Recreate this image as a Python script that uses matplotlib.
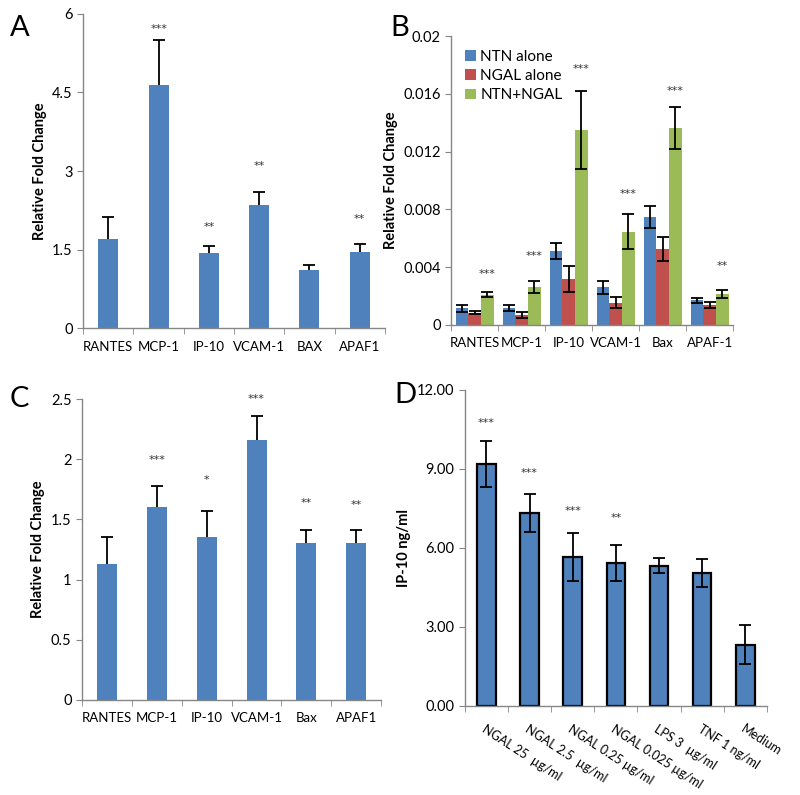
import numpy as np
import matplotlib
matplotlib.use("Agg")
import matplotlib.pyplot as plt
from matplotlib.ticker import FixedLocator, NullFormatter

plt.rcParams['font.family'] = ['Lato', 'DejaVu Sans']

BLUE = '#4F81BD'
RED = '#C0504D'
GREEN = '#9BBB59'
SPINE = '#868686'

# Panel A
a_labels = ['RANTES', 'MCP-1', 'IP-10', 'VCAM-1', 'BAX', 'APAF1']
a_vals = [1.70, 4.65, 1.44, 2.36, 1.10, 1.45]
a_err = [0.43, 0.85, 0.12, 0.24, 0.10, 0.15]
a_stars = ['', '***', '**', '**', '', '**']
a_star_y = [0, 5.72, 1.93, 3.10, 0, 2.08]

# Panel B
b_labels = ['RANTES', 'MCP-1', 'IP-10', 'VCAM-1', 'Bax', 'APAF-1']
b_ntn = [0.00115, 0.0012, 0.00514, 0.0026, 0.00747, 0.0017]
b_ntn_err = [0.00023, 0.0002, 0.00056, 0.00045, 0.00079, 0.0002]
b_ngal = [0.00085, 0.0007, 0.0032, 0.00155, 0.00526, 0.0014]
b_ngal_err = [0.0001, 0.0002, 0.0009, 0.0004, 0.00084, 0.0002]
b_both = [0.0021, 0.00265, 0.0135, 0.00646, 0.01363, 0.00215]
b_both_err = [0.00016, 0.00042, 0.0027, 0.0012, 0.00147, 0.00025]
b_stars = ['***', '***', '***', '***', '***', '**']
b_star_y = [0.0035, 0.0048, 0.0177, 0.0091, 0.0162, 0.0041]

# Panel C
c_labels = ['RANTES', 'MCP-1', 'IP-10', 'VCAM-1', 'Bax', 'APAF1']
c_vals = [1.13, 1.60, 1.35, 2.16, 1.30, 1.30]
c_err = [0.22, 0.18, 0.22, 0.20, 0.11, 0.11]
c_stars = ['', '***', '*', '***', '**', '**']
c_star_y = [0, 1.99, 1.83, 2.50, 1.64, 1.62]

# Panel D
d_labels = ['NGAL 25  \u00b5g/ml', 'NGAL 2.5  \u00b5g/ml', 'NGAL 0.25 \u00b5g/ml',
            'NGAL 0.025 \u00b5g/ml', 'LPS 3  \u00b5g/ml', 'TNF 1 ng/ml', 'Medium']
d_vals = [9.18, 7.34, 5.65, 5.42, 5.33, 5.05, 2.33]
d_err = [0.88, 0.72, 0.92, 0.69, 0.30, 0.52, 0.73]
d_stars = ['***', '***', '***', '**', '', '', '']
d_star_y = [10.76, 8.84, 7.40, 7.13, 0, 0, 0]

STAR_FS = 8
TICK_FS = 9.5


def add_star(ax, x, y, s):
    ax.text(x, y, s, ha='center', va='center', fontsize=STAR_FS,
            color='#333333', family='DejaVu Sans')


def style_axes(ax, n):
    for s in ['top', 'right']:
        ax.spines[s].set_visible(False)
    for s in ['left', 'bottom']:
        ax.spines[s].set_color(SPINE)
        ax.spines[s].set_linewidth(1.0)
    ax.set_xlim(-0.5, n - 0.5)
    ax.set_xticks(range(n))
    ax.xaxis.set_minor_locator(FixedLocator(np.arange(-0.5, n, 1.0)))
    ax.xaxis.set_minor_formatter(NullFormatter())
    ax.tick_params(axis='x', which='major', length=0, labelsize=TICK_FS, pad=9)
    ax.tick_params(axis='x', which='minor', length=4, color=SPINE)
    ax.tick_params(axis='y', length=4, color=SPINE, labelsize=10.5, direction='out')


def up_bars(ax, labels, vals, err, stars, star_y, ymax, step):
    x = np.arange(len(labels))
    ax.bar(x, vals, width=0.4, color=BLUE, zorder=2)
    tops = np.array(vals) + np.array(err)
    ax.vlines(x, vals, tops, color='black', lw=1.3, zorder=3)
    ax.plot(x, tops, ls='none', marker='_', ms=9, mew=1.3, color='black', zorder=3)
    for xi, s, y in zip(x, stars, star_y):
        if s:
            add_star(ax, xi, y, s)
    style_axes(ax, len(labels))
    ax.set_xticklabels(labels)
    ax.set_ylim(0, ymax)
    ticks = np.arange(0, ymax + step / 2, step)
    ax.set_yticks(ticks)
    ax.set_yticklabels(['%g' % t for t in ticks])
    ax.set_ylabel('Relative Fold Change', fontsize=10.5, fontweight='bold')


fig = plt.figure(figsize=(8, 7.95), dpi=100)

# A
axA = fig.add_axes([0.104, 0.5874, 0.377, 0.395])
up_bars(axA, a_labels, a_vals, a_err, a_stars, a_star_y, 6, 1.5)

# B
axB = fig.add_axes([0.564, 0.5912, 0.3525, 0.3635])
xb = np.arange(len(b_labels))
w = 0.27
ek = dict(ecolor='black', elinewidth=1.3, capsize=4, capthick=1.3)
axB.bar(xb - w, b_ntn, w, yerr=b_ntn_err, color=BLUE, label='NTN alone', error_kw=ek, zorder=2)
axB.bar(xb, b_ngal, w, yerr=b_ngal_err, color=RED, label='NGAL alone', error_kw=ek, zorder=2)
axB.bar(xb + w, b_both, w, yerr=b_both_err, color=GREEN, label='NTN+NGAL', error_kw=ek, zorder=2)
for xi, s, y in zip(xb, b_stars, b_star_y):
    add_star(axB, xi + w, y, s)
style_axes(axB, len(b_labels))
axB.set_xticklabels(b_labels)
axB.set_ylim(0, 0.02)
bt = np.arange(0, 0.0201, 0.004)
axB.set_yticks(bt)
axB.set_yticklabels(['0'] + ['%g' % t for t in bt[1:]])
axB.set_ylabel('Relative Fold Change', fontsize=10.5, fontweight='bold')
axB.legend(loc='upper left', bbox_to_anchor=(0.0, 1.0), frameon=False, fontsize=11,
           handlelength=0.7, handleheight=0.7, handletextpad=0.3, labelspacing=0.35)

# C
axC = fig.add_axes([0.1025, 0.1195, 0.374, 0.3786])
up_bars(axC, c_labels, c_vals, c_err, c_stars, c_star_y, 2.5, 0.5)

# D
axD = fig.add_axes([0.581, 0.112, 0.3775, 0.3975])
xd = np.arange(len(d_labels))
axD.bar(xd, d_vals, width=0.43, yerr=d_err, color=BLUE, edgecolor='black', linewidth=1.6,
        error_kw=dict(ecolor='black', elinewidth=1.3, capsize=4.5, capthick=1.3), zorder=2)
for xi, s, y in zip(xd, d_stars, d_star_y):
    if s:
        add_star(axD, xi, y, s)
style_axes(axD, len(d_labels))
axD.set_xticklabels(d_labels, rotation=-33, ha='left', rotation_mode='anchor', fontsize=9)
axD.tick_params(axis='x', which='major', pad=12)
axD.set_ylim(0, 12)
dt = np.arange(0, 12.1, 3)
axD.set_yticks(dt)
axD.set_yticklabels(['%.2f' % t for t in dt])
axD.set_ylabel('IP-10 ng/ml', fontsize=10.5, fontweight='bold')

# panel letters
for txt, x, y in [('A', 0.012, 0.965), ('B', 0.488, 0.965), ('C', 0.012, 0.498), ('D', 0.493, 0.503)]:
    fig.text(x, y, txt, fontsize=21, ha='left', va='center')

fig.savefig('out.png', dpi=100, facecolor='white')
